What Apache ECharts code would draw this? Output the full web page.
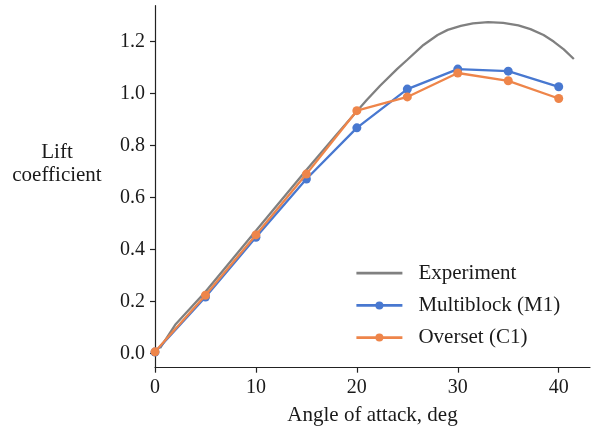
<!DOCTYPE html>
<html>
<head>
<meta charset="utf-8">
<script src="https://cdn.jsdelivr.net/npm/echarts@6/dist/echarts.min.js"></script>
<style>html,body{margin:0;padding:0;background:#fff}#c{width:591px;height:434px}</style>
</head>
<body>
<div id="c"></div>
<script>
// Data
const angles = [0, 5, 10, 15, 20, 25, 30, 35, 40];
const multiblock = [0.005, 0.217, 0.447, 0.671, 0.868, 1.017, 1.094, 1.086, 1.026];
const overset = [0.006, 0.224, 0.456, 0.690, 0.934, 0.987, 1.079, 1.049, 0.981];
const expAngles = [0.5, 2, 5, 10, 15, 18, 20, 21, 22.3, 24, 25, 26.6, 28, 29, 30.3, 31.5, 33, 34.5, 36, 37.2, 38.5, 39.5, 40.5, 41.5];
const expLift = [0.02, 0.11, 0.237, 0.472, 0.706, 0.842, 0.932, 0.976, 1.03, 1.095, 1.13, 1.187, 1.225, 1.245, 1.26, 1.27, 1.275, 1.272, 1.262, 1.248, 1.225, 1.2, 1.17, 1.133];
const xTicks = [0, 10, 20, 30, 40];
const yTicks = [0, 0.2, 0.4, 0.6, 0.8, 1.0, 1.2];
const seriesNames = ['Experiment', 'Multiblock (M1)', 'Overset (C1)'];

const font = 'Liberation Serif';
const txt = '#1a1a1a';
const chart = echarts.init(document.getElementById('c'), null, {renderer: 'canvas'});
chart.setOption({
  animation: false,
  backgroundColor: '#fff',
  grid: {left: 155, right: 1, top: 5.7, bottom: 66.3, containLabel: false},
  xAxis: {
    type: 'value', min: 0, max: 43.1,
    name: 'Angle of attack, deg', nameLocation: 'middle', nameGap: 37.5,
    nameTextStyle: {fontFamily: font, fontSize: 21, color: txt},
    splitLine: {show: false},
    axisLine: {show: true, onZero: false, lineStyle: {color: '#222', width: 1.2}},
    axisTick: {show: true, length: 5, lineStyle: {color: '#222', width: 1.2}, customValues: xTicks},
    axisLabel: {fontFamily: font, fontSize: 20, color: txt, margin: 10, customValues: xTicks, formatter: v => String(v)}
  },
  yAxis: {
    type: 'value', min: -0.055, max: 1.338,
    name: 'Lift\ncoefficient', nameLocation: 'middle', nameGap: 98, nameRotate: 0,
    nameTextStyle: {fontFamily: font, fontSize: 21, color: txt, align: 'center', verticalAlign: 'bottom', lineHeight: 23},
    splitLine: {show: false},
    axisLine: {show: true, onZero: false, lineStyle: {color: '#222', width: 1.2}},
    axisTick: {show: true, length: 5, lineStyle: {color: '#222', width: 1.2}, customValues: yTicks},
    axisLabel: {fontFamily: font, fontSize: 20, color: txt, margin: 10, customValues: yTicks, formatter: v => v.toFixed(1)}
  },
  legend: {
    orient: 'vertical', left: 355, top: 262.7, padding: 0, itemWidth: 46, itemHeight: 10, itemGap: 11.2,
    textStyle: {fontFamily: font, fontSize: 21, color: txt, lineHeight: 20, padding: [0, 0, 0, 11]},
    lineStyle: {width: 2.8},
    data: [{name: seriesNames[0], itemStyle: {opacity: 0}}, seriesNames[1], seriesNames[2]]
  },
  series: [
    {
      name: seriesNames[0], type: 'line', symbol: 'none', smooth: false,
      data: expAngles.map((a, i) => [a, expLift[i]]),
      lineStyle: {color: '#808080', width: 2.3}, itemStyle: {color: '#808080'}, z: 1
    },
    {
      name: seriesNames[1], type: 'line', symbol: 'circle', symbolSize: 9,
      data: angles.map((a, i) => [a, multiblock[i]]),
      lineStyle: {color: '#4878d0', width: 2.3}, itemStyle: {color: '#4878d0'}, z: 2
    },
    {
      name: seriesNames[2], type: 'line', symbol: 'circle', symbolSize: 9,
      data: angles.map((a, i) => [a, overset[i]]),
      lineStyle: {color: '#ee854a', width: 2.3}, itemStyle: {color: '#ee854a'}, z: 3
    }
  ]
});
</script>
</body>
</html>
